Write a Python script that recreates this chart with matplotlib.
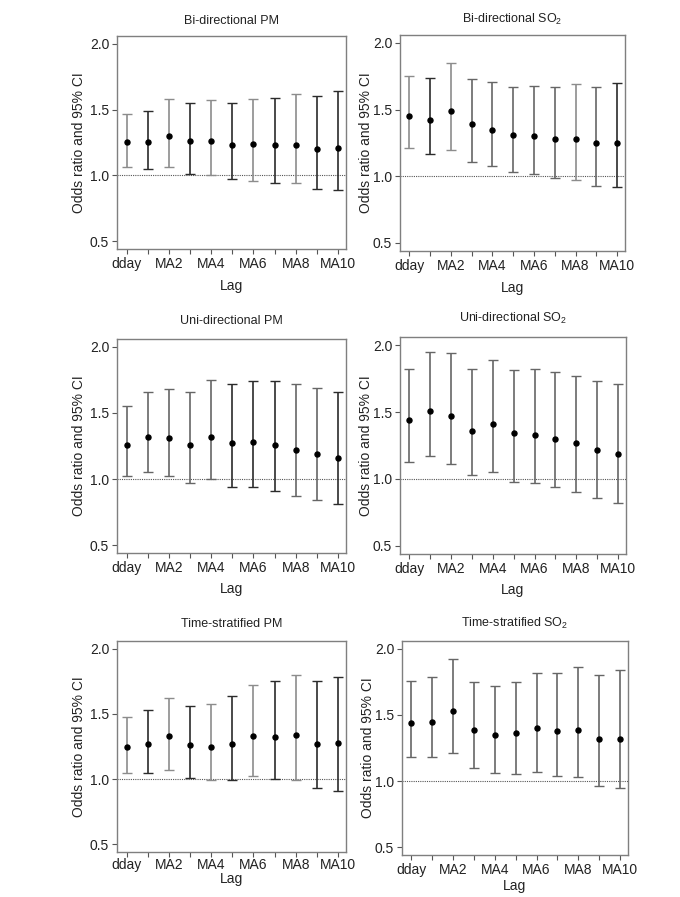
import numpy as np
import matplotlib
matplotlib.use('Agg')
import matplotlib.pyplot as plt

plt.rcParams['font.family'] = ['Liberation Sans', 'DejaVu Sans']
plt.rcParams['mathtext.fontset'] = 'custom'
plt.rcParams['mathtext.rm'] = 'Liberation Sans'

# ---------------- data ----------------
tick_labels = ['dday', '', 'MA2', '', 'MA4', '', 'MA6', '', 'MA8', '', 'MA10']

bi_pm_or = [1.25, 1.25, 1.30, 1.26, 1.26, 1.23, 1.24, 1.23, 1.23, 1.20, 1.21]
bi_pm_lo = [1.06, 1.05, 1.06, 1.01, 1.00, 0.97, 0.96, 0.94, 0.94, 0.90, 0.89]
bi_pm_hi = [1.47, 1.49, 1.58, 1.55, 1.57, 1.55, 1.58, 1.59, 1.62, 1.60, 1.64]

bi_so2_or = [1.45, 1.42, 1.49, 1.39, 1.35, 1.31, 1.30, 1.28, 1.28, 1.25, 1.25]
bi_so2_lo = [1.21, 1.17, 1.20, 1.11, 1.08, 1.03, 1.02, 0.99, 0.97, 0.93, 0.92]
bi_so2_hi = [1.75, 1.74, 1.85, 1.73, 1.71, 1.67, 1.68, 1.67, 1.69, 1.67, 1.70]

uni_pm_or = [1.26, 1.32, 1.31, 1.26, 1.32, 1.27, 1.28, 1.26, 1.22, 1.19, 1.16]
uni_pm_lo = [1.02, 1.05, 1.02, 0.97, 1.00, 0.94, 0.94, 0.91, 0.87, 0.84, 0.81]
uni_pm_hi = [1.55, 1.66, 1.68, 1.66, 1.75, 1.72, 1.74, 1.74, 1.72, 1.69, 1.66]

uni_so2_or = [1.44, 1.51, 1.47, 1.36, 1.41, 1.34, 1.33, 1.30, 1.27, 1.22, 1.19]
uni_so2_lo = [1.13, 1.17, 1.11, 1.03, 1.05, 0.98, 0.97, 0.94, 0.90, 0.86, 0.82]
uni_so2_hi = [1.82, 1.95, 1.94, 1.82, 1.89, 1.81, 1.82, 1.80, 1.77, 1.73, 1.71]

ts_pm_or = [1.25, 1.27, 1.33, 1.26, 1.25, 1.27, 1.33, 1.32, 1.34, 1.27, 1.28]
ts_pm_lo = [1.05, 1.05, 1.07, 1.01, 0.99, 0.99, 1.02, 1.00, 0.99, 0.93, 0.91]
ts_pm_hi = [1.48, 1.53, 1.62, 1.56, 1.58, 1.64, 1.72, 1.75, 1.80, 1.75, 1.78]

ts_so2_or = [1.44, 1.45, 1.53, 1.39, 1.35, 1.36, 1.40, 1.38, 1.39, 1.32, 1.32]
ts_so2_lo = [1.18, 1.18, 1.21, 1.10, 1.06, 1.05, 1.07, 1.04, 1.03, 0.96, 0.945]
ts_so2_hi = [1.76, 1.79, 1.92, 1.75, 1.72, 1.75, 1.82, 1.82, 1.86, 1.80, 1.84]

titles = ['Bi-directional PM', r'Bi-directional SO$_\mathregular{2}$',
          'Uni-directional PM', r'Uni-directional SO$_\mathregular{2}$',
          'Time-stratified PM', r'Time-stratified SO$_\mathregular{2}$']
series = [(bi_pm_or, bi_pm_lo, bi_pm_hi), (bi_so2_or, bi_so2_lo, bi_so2_hi),
          (uni_pm_or, uni_pm_lo, uni_pm_hi), (uni_so2_or, uni_so2_lo, uni_so2_hi),
          (ts_pm_or, ts_pm_lo, ts_pm_hi), (ts_so2_or, ts_so2_lo, ts_so2_hi)]

# ---------------- layout (pixels) ----------------
W, H = 680, 897
rects_px = [(117, 36, 346, 249), (400, 35, 625, 251),
            (117, 339, 346, 553), (400, 337, 626, 554),
            (117, 641, 346, 852), (402, 641, 628, 855)]
title_pads = [8.6, 8.6, 10.8, 10.8, 10.0, 10.0]
xtick_pads = [2, 2, 2, 2, 0.5, 2]
xlabel_pads = [6, 6, 5, 5, 0, 1.5]
ylabel_pads = [2.5, 0, 2.5, 0, 2.5, 0]

LIGHT = '#8c8c8c'
DARK = '#2b2b2b'
MED = '#666666'
color_sets = [
    [LIGHT, DARK] * 5 + [DARK],
    [LIGHT, DARK, LIGHT, MED, MED, MED, MED, MED, LIGHT, MED, DARK],
    [MED, MED, MED, MED, MED, DARK, DARK, DARK, MED, MED, DARK],
    [MED] * 11,
    [LIGHT, DARK] * 5 + [DARK],
    [MED] * 11,
]

fig = plt.figure(figsize=(W / 100, H / 100), dpi=100)
x = np.arange(1, 12)

for k in range(6):
    l, t, r, b = rects_px[k]
    ax = fig.add_axes([l / W, 1 - b / H, (r - l) / W, (b - t) / H])
    orv, lo, hi = (np.array(v, dtype=float) for v in series[k])
    ax.axhline(1.0, ls=(0, (1, 1)), color='#555555', lw=0.8, zorder=1)
    for i in range(11):
        ax.errorbar(x[i], orv[i], yerr=[[orv[i] - lo[i]], [hi[i] - orv[i]]],
                    fmt='none', ecolor=color_sets[k][i], elinewidth=1.2,
                    capsize=3.8, capthick=1.0, zorder=2)
    ax.plot(x, orv, 'o', ms=3.6, color='black', ls='none', zorder=3)
    ax.set_xlim(0.55, 11.38)
    ax.set_ylim(0.44, 2.06)
    ax.set_xticks(x)
    ax.set_xticklabels(tick_labels)
    ax.set_yticks([0.5, 1.0, 1.5, 2.0])
    ax.set_yticklabels(['0.5', '1.0', '1.5', '2.0'])
    for s in ax.spines.values():
        s.set_color('#7f7f7f')
        s.set_linewidth(1.0)
    ax.tick_params(direction='out', length=3.6, width=0.8, color='#555555',
                   labelsize=10, pad=2, labelcolor='#222222')
    ax.tick_params(axis='x', pad=xtick_pads[k])
    ax.set_xlabel('Lag', fontsize=10, labelpad=xlabel_pads[k], color='#222222')
    ax.set_ylabel('Odds ratio and 95% CI', fontsize=10, labelpad=ylabel_pads[k],
                  color='#222222')
    ax.set_title(titles[k], fontsize=9, pad=title_pads[k], color='#222222')

fig.savefig('out.png', dpi=100)
